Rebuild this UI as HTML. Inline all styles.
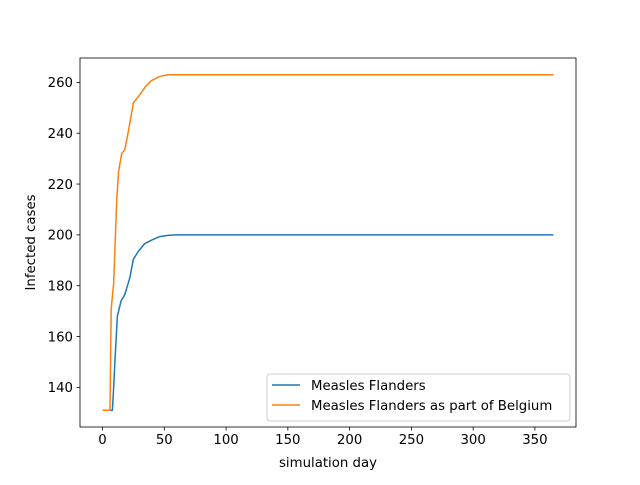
<!DOCTYPE html>
<html><head><meta charset="utf-8"><style>
html,body{margin:0;padding:0;background:#fff}
svg text{font-family:"DejaVu Sans","Liberation Sans",sans-serif;font-size:13.3px;fill:#000}
</style></head><body>
<svg id="chart" width="640" height="480" xmlns="http://www.w3.org/2000/svg">
<rect width="640" height="480" fill="#fff"/>
<g id="plot"></g>
</svg>
<script>
const blueDays = [0,7,8,9,10,12,15,18,22,25,29,34,40,46,53,60,365];
const blueValues = [131,131,131,140,150,168,174,176.5,183,190.5,193.5,196.5,198,199.3,199.8,200,200];
const orangeDays = [0,6,7,9,11.5,13,15.5,18,21,25,30,35,39,46,53,60,365];
const orangeValues = [131,131,171,181,214,225,232,233.5,241,252,255,258.5,260.5,262.3,263,263,263];
const xTicks = [0,50,100,150,200,250,300,350];
const yTicks = [140,160,180,200,220,240,260];
const seriesNames = ["Measles Flanders","Measles Flanders as part of Belgium"];

const L=80,R=576,T=58,B=427;
const xmin=-18.25,xmax=383.25,ymin=124.4,ymax=269.6;
const X=d=>L+(d-xmin)/(xmax-xmin)*(R-L);
const Y=v=>B-(v-ymin)/(ymax-ymin)*(B-T);
const NS="http://www.w3.org/2000/svg";
const g=document.getElementById('plot');
function mk(t,a){const e=document.createElementNS(NS,t);for(const k in a)e.setAttribute(k,a[k]);g.appendChild(e);return e;}

function line(days,vals,color,name){
  const p=mk('polyline',{points:days.map((d,i)=>X(d)+','+Y(vals[i])).join(' '),fill:'none',stroke:color,'stroke-width':1.5,'stroke-linejoin':'round'});
  
  
}
line(blueDays,blueValues,'#1f77b4','series-measles-flanders');
line(orangeDays,orangeValues,'#ff7f0e','series-measles-flanders-belgium');

const frame=mk('rect',{x:L,y:T,width:R-L,height:B-T,fill:'none',stroke:'#000','stroke-width':0.8});



xTicks.forEach(t=>{
  const x=X(t);
  mk('line',{x1:x,x2:x,y1:B,y2:B+3.5,stroke:'#000','stroke-width':0.8});
  const tx=mk('text',{x:x,y:B+17,'text-anchor':'middle'});tx.textContent=t;
  
  
});
yTicks.forEach(t=>{
  const y=Y(t);
  mk('line',{x1:L-3.5,x2:L,y1:y,y2:y,stroke:'#000','stroke-width':0.8});
  const tx=mk('text',{x:L-7,y:y+4.8,'text-anchor':'end'});tx.textContent=t;
  
  
});
const xt=mk('text',{x:(L+R)/2,y:467,'text-anchor':'middle'});xt.textContent='simulation day';


const yt=mk('text',{x:0,y:0,'text-anchor':'middle',transform:`translate(35,${(T+B)/2}) rotate(-90)`});yt.textContent='Infected cases';



const lg=mk('rect',{x:267,y:374,width:303,height:47,rx:3,fill:'#fff','fill-opacity':0.8,stroke:'#ccc','stroke-width':1});


['#1f77b4','#ff7f0e'].forEach((c,i)=>{
  const y=385+i*20;
  mk('line',{x1:272,x2:300,y1:y,y2:y,stroke:c,'stroke-width':1.5});
  const t=mk('text',{x:311,y:y+4.8});t.textContent=seriesNames[i];
  
  
});
</script>
</body></html>
